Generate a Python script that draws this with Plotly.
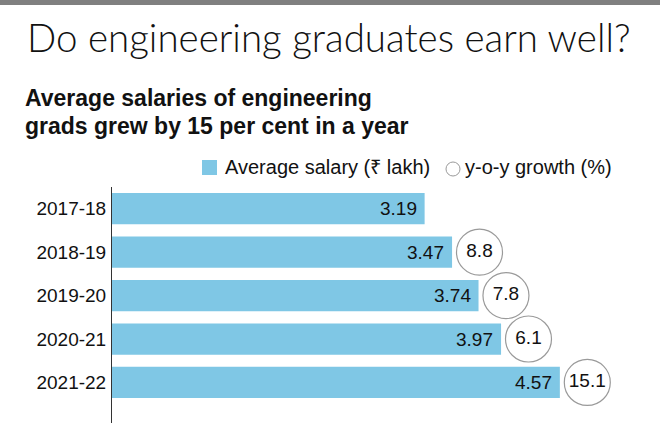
import plotly.graph_objects as go

# data
years = ["2017-18", "2018-19", "2019-20", "2020-21", "2021-22"]
salary = [3.19, 3.47, 3.74, 3.97, 4.57]          # average salary, Rs lakh
growth = [None, 8.8, 7.8, 6.1, 15.1]            # y-o-y growth, %

W, H = 660, 448
L, T, B = 112, 187, 25
plot_w = W - L
plot_h = H - T - B

BLUE = "#7fc7e5"
SANS = "Liberation Sans, Arial, sans-serif"


def px(x):
    # pixel x -> paper x
    return (x - L) / plot_w


def py(y):
    # pixel y -> paper y
    return (H - B - y) / plot_h


fig = go.Figure()

fig.add_trace(go.Bar(
    x=salary, y=years, orientation="h",
    marker=dict(color=BLUE, line=dict(width=0)),
    hoverinfo="skip", showlegend=False))

gx = [s + 0.28 for s, g in zip(salary, growth) if g is not None]
gy = [y for y, g in zip(years, growth) if g is not None]
gt = [str(g) for g in growth if g is not None]
fig.add_trace(go.Scatter(
    x=gx, y=gy, mode="markers+text", text=gt, textposition="middle center",
    textfont=dict(family=SANS, size=19, color="#111"),
    marker=dict(size=46, color="white", line=dict(color="#9a9a9a", width=1.2)),
    cliponaxis=False, hoverinfo="skip", showlegend=False))

annotations = []
for y, s in zip(years, salary):
    annotations.append(dict(
        x=s, y=y, xref="x", yref="y", text=f"{s:.2f}", showarrow=False,
        xanchor="right", yanchor="middle", xshift=-6,
        font=dict(family=SANS, size=19, color="#111")))

annotations += [
    dict(x=px(25), y=py(37), xref="paper", yref="paper", showarrow=False,
         xanchor="left", yanchor="middle", text="Do engineering graduates earn well?",
         font=dict(family="Lato", weight=300, size=38.5, color="#111")),
    dict(x=px(23), y=py(98), xref="paper", yref="paper", showarrow=False,
         xanchor="left", yanchor="middle", text="<b>Average salaries of engineering</b>",
         font=dict(family=SANS, size=23, color="#111")),
    dict(x=px(23), y=py(126), xref="paper", yref="paper", showarrow=False,
         xanchor="left", yanchor="middle", text="<b>grads grew by 15 per cent in a year</b>",
         font=dict(family=SANS, size=23, color="#111")),
    dict(x=px(223), y=py(167), xref="paper", yref="paper", showarrow=False,
         xanchor="left", yanchor="middle", text="Average salary (₹ lakh)",
         font=dict(family=SANS, size=20, color="#111")),
    dict(x=px(463), y=py(167), xref="paper", yref="paper", showarrow=False,
         xanchor="left", yanchor="middle", text="y-o-y growth (%)",
         font=dict(family=SANS, size=20, color="#111")),
]

shapes = [
    dict(type="rect", xref="paper", yref="paper", x0=px(0), x1=px(W), y0=py(0), y1=py(5),
         fillcolor="#808080", line=dict(width=0)),
    dict(type="rect", xref="paper", yref="paper", x0=px(202), x1=px(217), y0=py(160), y1=py(175),
         fillcolor=BLUE, line=dict(width=0)),
    dict(type="circle", xref="paper", yref="paper", x0=px(446), x1=px(460), y0=py(162), y1=py(176),
         fillcolor="white", line=dict(color="#9a9a9a", width=1)),
]

fig.update_layout(
    width=W, height=H,
    margin=dict(l=L, r=0, t=T, b=B),
    paper_bgcolor="white", plot_bgcolor="white",
    bargap=0.28,
    xaxis=dict(range=[0, plot_w / 98], visible=False, fixedrange=True),
    yaxis=dict(categoryorder="array", categoryarray=years, autorange="reversed",
               showline=True, linecolor="#333", linewidth=1, ticks="",
               showgrid=False, zeroline=False, ticklabelstandoff=1,
               tickfont=dict(family=SANS, size=19, color="#111"), fixedrange=True),
    annotations=annotations, shapes=shapes,
)

# the page's default 8px body margin would shift the chart off the corner
fig.write_html("out.html", config={"displayModeBar": False},
               post_script="document.body.style.margin='0';")
